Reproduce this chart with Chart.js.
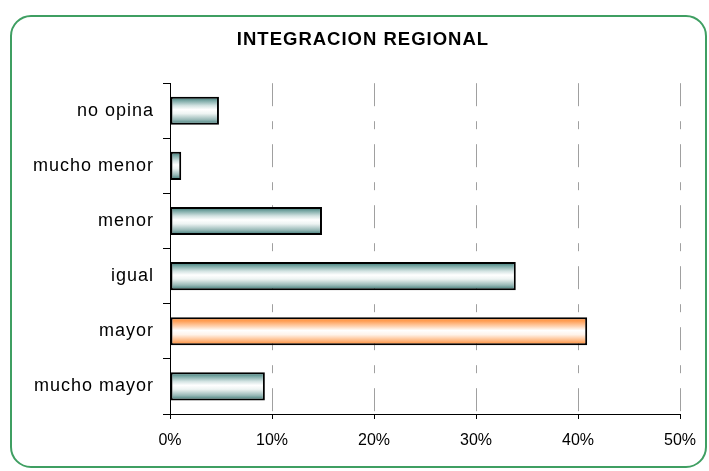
<!DOCTYPE html>
<html>
<head>
<meta charset="utf-8">
<style>
  html, body { margin: 0; padding: 0; background: #fff; }
  #chart { display: block; }
</style>
</head>
<body>
<canvas id="chart" width="709" height="471"></canvas>
<script src="https://cdn.jsdelivr.net/npm/chart.js"></script>
<script>
// values, in percent
const categories = ['no opina', 'mucho menor', 'menor', 'igual', 'mayor', 'mucho mayor'];
const values = [4.8, 1.1, 14.9, 33.9, 40.9, 9.3];
const xTicks = [0, 10, 20, 30, 40, 50];
const highlighted = 'mayor';

const tealStops = [[0, '#2f6f6c'], [0.14, '#7aa8a5'], [0.32, '#d3e3e2'], [0.46, '#ffffff'], [0.6, '#eef4f3'], [0.82, '#98b9b7'], [1, '#2f6f6c']];
const orangeStops = [[0, '#ff8428'], [0.15, '#ffa25c'], [0.32, '#ffd2b0'], [0.47, '#ffffff'], [0.62, '#fff3ea'], [0.84, '#ffb57c'], [1, '#ff8428']];

Chart.defaults.font.family = "'Liberation Sans', Arial, sans-serif";
Chart.defaults.color = '#000';

function barFill(c) {
  const stops = categories[c.dataIndex] === highlighted ? orangeStops : tealStops;
  const chart = c.chart;
  const area = chart.chartArea;
  const yScale = chart.scales.y;
  if (!area || !yScale || c.dataIndex === undefined) return stops[0][1];
  const mid = yScale.getPixelForValue(c.dataIndex);
  const half = (area.bottom - area.top) / categories.length * 0.51 / 2;
  const g = chart.ctx.createLinearGradient(0, mid - half, 0, mid + half);
  stops.forEach(s => g.addColorStop(s[0], s[1]));
  return g;
}

// white page, green rounded frame, and the wide letter spacing of the original
const frame = {
  id: 'frame',
  afterLayout(chart) {
    // title sits centred over the whole frame, not over the padded area
    if (chart.titleBlock) {
      chart.titleBlock.left = 46;
      chart.titleBlock.right = 680;
    }
  },
  beforeDraw(chart) {
    const {ctx, width, height} = chart;
    ctx.save();
    ctx.fillStyle = '#fff';
    ctx.fillRect(0, 0, width, height);
    ctx.strokeStyle = '#3f9f62';
    ctx.lineWidth = 2;
    ctx.beginPath();
    ctx.roundRect(11, 16, 695, 451, 20);
    ctx.stroke();
    ctx.restore();
    ctx.letterSpacing = '1px';
  },
  afterDatasetsDraw(chart) {
    chart.ctx.letterSpacing = '0px';
  }
};

const chart = new Chart(document.getElementById('chart'), {
  type: 'bar',
  data: {
    labels: categories,
    datasets: [{
      data: values,
      backgroundColor: barFill,
      borderColor: '#000',
      borderWidth: 2,
      borderSkipped: false,
      categoryPercentage: 1,
      barPercentage: 0.51
    }]
  },
  options: {
    indexAxis: 'y',
    responsive: false,
    animation: false,
    layout: { padding: { top: 0, left: 0, right: 29, bottom: 0 } },
    plugins: {
      legend: { display: false },
      tooltip: { enabled: false },
      title: {
        display: true,
        text: 'INTEGRACION REGIONAL',
        color: '#000',
        font: { size: 18.5, weight: 'bold', lineHeight: 1.2 },
        padding: { top: 29, bottom: 32 }
      }
    },
    scales: {
      x: {
        min: 0,
        max: 50,
        afterFit: s => { s.height = 57; },
        afterBuildTicks: s => { s.ticks = xTicks.map(v => ({ value: v })); },
        ticks: {
          callback: v => v + '%',
          font: { size: 16 },
          padding: 12,
          maxRotation: 0,
          z: 1
        },
        grid: {
          color: c => c.index === 0 ? 'rgba(0,0,0,0)' : '#a0a0a0',
          tickColor: '#000',
          tickLength: 5,
          lineWidth: 1
        },
        border: { color: '#000', width: 1, dash: [23, 15, 8, 15] }
      },
      y: {
        afterFit: s => { s.width = 170; },
        ticks: { font: { size: 18 }, padding: 9 },
        grid: {
          offset: true,
          drawOnChartArea: false,
          tickLength: 7,
          tickColor: '#000',
          color: '#000'
        },
        border: { color: '#000', width: 1 }
      }
    }
  },
  plugins: [frame]
});
</script>
</body>
</html>
